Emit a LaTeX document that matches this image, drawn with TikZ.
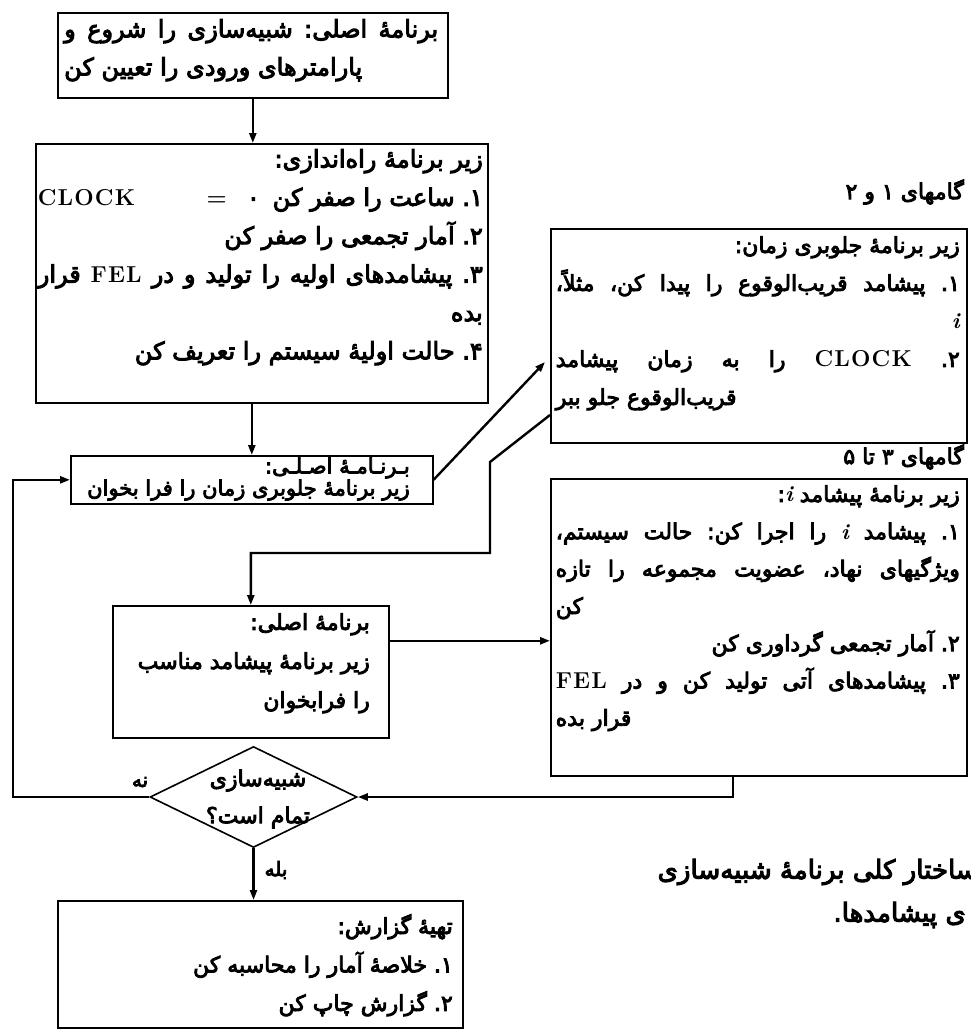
\documentclass[tikz,border=0pt]{standalone}
\usepackage{fontspec}
\usetikzlibrary{shapes.geometric,arrows.meta}
\TeXXeTstate=1
\frenchspacing
\newfontfamily\fa[Script=Arabic,FakeBold=4]{DejaVu Sans}
\newfontfamily\latin[LetterSpace=5]{Latin Modern Roman}
\newcommand\lat[1]{{\latin\bfseries\fontsize{23}{37}\selectfont #1}}
\newcommand\ivar{{\rmfamily\bfseries\itshape i}}

\begin{document}
\begin{tikzpicture}[x=1pt,y=-1pt,
  box/.style={draw,line width=1.6pt,inner sep=0pt,anchor=north west},
  txt/.style={inner sep=0pt,align=right},
  ctxt/.style={inner sep=0pt,align=center},
  fbig/.style={font=\fa\fontsize{24}{38.4}\selectfont},
  fmid/.style={font=\fa\fontsize{22}{38.5}\selectfont},
  fsub/.style={font=\fa\fontsize{20}{37.5}\selectfont},
  conn/.style={line width=2.4pt,-{Triangle[length=10pt,width=7pt]}}]
\useasboundingbox (0,0) rectangle (971,1031);
\clip (0,0) rectangle (971,1031);

% --- main program boxes (left column)
\node[box,minimum width=390pt,minimum height=85pt] (b1) at (57,12) {};
\node[txt,align=left,font=\fa\fontsize{24}{38}\selectfont,anchor=north west] (t1) at (64,19) {%
  \hbox to 374pt{\beginR برنامهٔ اصلی: شبیه‌سازی را شروع و\endR}\\
  \hbox to 374pt{\beginR پارامترهای ورودی را تعیین کن\endR\hfil}};

\node[box,minimum width=452pt,minimum height=259pt] (b2) at (35,143) {};
\node[txt,fbig,anchor=north east] (t2) at (483,149) {%
  \beginR زیر برنامهٔ راه‌اندازی:\endR\\
  \hbox to 445pt{\beginR ۱. ساعت را صفر کن\hskip13pt ۰\hskip20pt\lat{=}\hfil\lat{CLOCK}\endR}\\
  \beginR ۲. آمار تجمعی را صفر کن\endR\\
  \hbox to 445pt{\beginR ۳. پیشامدهای اولیه را تولید و در \lat{FEL} قرار\endR}\\
  \beginR بده\endR\\
  \beginR ۴. حالت اولیهٔ سیستم را تعریف کن\endR};

\node[box,minimum width=362pt,minimum height=48pt] (b3) at (70,455) {};
\node[txt,font=\fa\fontsize{21}{20}\selectfont,anchor=east] (t3) at (410,479) {%
  \beginR بـرنـامـهٔ اصـلـی:\endR\\
  \beginR زیر برنامهٔ جلوبری زمان را فرا بخوان\endR};

\node[box,minimum width=276pt,minimum height=132pt] (b4) at (112,605) {};
\node[txt,font=\fa\fontsize{22}{39}\selectfont,anchor=north east] (t4) at (370,613) {%
  \beginR برنامهٔ اصلی:\endR\\
  \beginR زیر برنامهٔ پیشامد مناسب\endR\\
  \beginR را فرابخوان\endR};

% --- decision
\node[draw,line width=1.6pt,shape=diamond,inner sep=0pt,
      minimum width=207pt,minimum height=101pt] (d) at (253.5,797) {};
\node[ctxt,font=\fa\fontsize{22}{37}\selectfont] (dt) at (258,799) {%
  \beginR شبیه‌سازی\endR\\
  \beginR تمام است؟\endR};

\node[box,minimum width=405pt,minimum height=127pt] (b5) at (57,900) {};
\node[txt,fmid,anchor=north east] (t5) at (453,914) {%
  \beginR تهیهٔ گزارش:\endR\\
  \beginR ۱. خلاصهٔ آمار را محاسبه کن\endR\\
  \beginR ۲. گزارش چاپ کن\endR};

% --- subroutines (right column)
\node[txt,font=\fa\fontsize{22}{30}\selectfont,anchor=east] (g1) at (964,192) {\beginR گامهای ۱ و ۲\endR};
\node[box,minimum width=416pt,minimum height=214pt] (r1) at (550,228) {};
\node[txt,font=\fa\fontsize{22}{38}\selectfont,anchor=north east] (t6) at (960,236) {%
  \beginR زیر برنامهٔ جلوبری زمان:\endR\\
  \hbox to 404pt{\beginR ۱. پیشامد قریب‌الوقوع را پیدا کن، مثلاً،\endR}\\
  \beginR\ivar\endR\\
  \hbox to 404pt{\beginR ۲. \lat{CLOCK} را به زمان پیشامد\endR}\\
  \hbox to 404pt{\beginR قریب‌الوقوع جلو ببر\endR\hfil}};

\node[txt,font=\fa\fontsize{22}{30}\selectfont,anchor=east] (g2) at (964,457) {\beginR گامهای ۳ تا ۵\endR};
\node[box,minimum width=416pt,minimum height=297pt] (r2) at (550,478) {};
\node[txt,font=\fa\fontsize{22}{37.3}\selectfont,anchor=north east] (t7) at (960,485) {%
  \beginR زیر برنامهٔ پیشامد \ivar:\endR\\
  \hbox to 404pt{\beginR ۱. پیشامد \ivar{} را اجرا کن: حالت سیستم،\endR}\\
  \hbox to 404pt{\beginR ویژگیهای نهاد، عضویت مجموعه را تازه\endR}\\
  \hbox to 404pt{\beginR کن\endR\hfil}\\
  \beginR ۲. آمار تجمعی گرداوری کن\endR\\
  \hbox to 404pt{\beginR ۳. پیشامدهای آتی تولید کن و در \lat{FEL}\endR}\\
  \hbox to 404pt{\beginR قرار بده\endR\hfil}};

% --- branch labels
\node[txt,fsub] (no) at (140,782) {\beginR نه\endR};
\node[txt,fsub] (yes) at (276,870) {\beginR بله\endR};

% --- caption lines
\node[txt,font=\fa\fontsize{26}{30}\selectfont,anchor=east] (c1) at (978,872) {\beginR ساختار کلی برنامهٔ شبیه‌سازی\endR};
\node[txt,font=\fa\fontsize{26}{30}\selectfont,anchor=east] (c2) at (966,915) {\beginR ی پیشامدها.\endR};

% --- connectors
\coordinate (a1) at (545,362);
\coordinate (r1out) at (550,415);
\draw[conn] (b1.south) -- (b1.south |- b2.north);
\draw[conn] (b3.north |- b2.south) -- (b3.north);
\draw[conn] (b3.east) -- (a1);
\draw[conn] (r1out) -- (490,462) -- (490,553) -- (b4.north |- 0,553) -- (b4.north);
\draw[conn] ([yshift=31pt]b4.east) -- ([yshift=31pt]b4.east -| r2.west);
\draw[conn] ([xshift=-26pt]r2.south) |- (d.east);
\draw[conn] (d.west) -- (13,797) |- (b3.west);
\draw[conn] (d.south) -- (d.south |- b5.north);
\end{tikzpicture}
\end{document}
